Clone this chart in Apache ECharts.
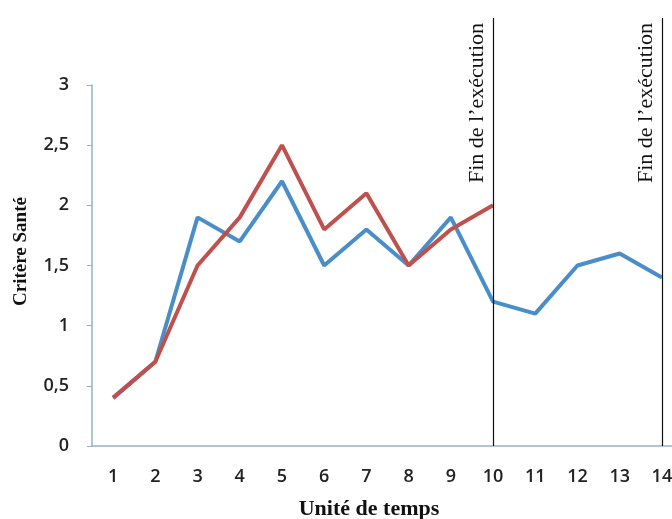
<!DOCTYPE html>
<html lang="fr">
<head>
    <meta charset="UTF-8">
    <title>Critère Santé</title>
    <script src="https://cdn.jsdelivr.net/npm/echarts@6/dist/echarts.min.js"></script>
    <style>
        body { margin: 0; padding: 0; background: #fff; }
        #chart { width: 672px; height: 519px; }
    </style>
</head>
<body>
    <div id="chart"></div>
    <script>
        // données
        const categories = ['1', '2', '3', '4', '5', '6', '7', '8', '9', '10', '11', '12', '13', '14'];
        const blueValues = [0.4, 0.7, 1.9, 1.7, 2.2, 1.5, 1.8, 1.5, 1.9, 1.2, 1.1, 1.5, 1.6, 1.4];
        const redValues = [0.4, 0.7, 1.5, 1.9, 2.5, 1.8, 2.1, 1.5, 1.8, 2.0];
        const endMarks = ['10', '14'];
        const endLabel = 'Fin de l\u2019exécution';

        const chart = echarts.init(document.getElementById('chart'));
        const axisColor = '#93b3c6';

        chart.setOption({
            animation: false,
            backgroundColor: '#fff',
            grid: [
                { left: 92, top: 85, bottom: 73, width: 591, outerBoundsMode: 'none' },
                { left: 92, top: 18, bottom: 73, width: 591, outerBoundsMode: 'none' }
            ],
            xAxis: [{
                type: 'category',
                gridIndex: 0,
                data: categories,
                name: 'Unité de temps',
                nameLocation: 'middle',
                nameGap: 52,
                nameTextStyle: { fontFamily: 'Liberation Serif', fontWeight: 'bold', fontSize: 22, color: '#111', padding: [0, 37, 0, 0] },
                axisLine: { lineStyle: { color: axisColor, width: 1.5 } },
                axisTick: { show: false },
                axisLabel: { margin: 22, fontFamily: 'Open Sans', fontWeight: 600, fontSize: 18, color: '#222' },
                splitLine: { show: false }
            }, {
                type: 'category',
                gridIndex: 1,
                data: categories,
                show: false
            }],
            yAxis: [{
                type: 'value',
                gridIndex: 0,
                min: 0,
                max: 3,
                interval: 0.5,
                name: 'Critère Santé',
                nameLocation: 'middle',
                nameGap: 61,
                nameTextStyle: { fontFamily: 'Liberation Serif', fontWeight: 'bold', fontSize: 19, color: '#111', padding: [0, 0, 0, 28] },
                axisLine: { show: true, lineStyle: { color: axisColor, width: 1.5 } },
                axisTick: { show: true, length: 5, lineStyle: { color: axisColor } },
                axisLabel: {
                    margin: 23,
                    fontFamily: 'Open Sans', fontWeight: 600, fontSize: 18, color: '#222',
                    formatter: v => String(v).replace('.', ',')
                },
                splitLine: { show: false }
            }, {
                type: 'value',
                gridIndex: 1,
                min: 0,
                max: 1,
                show: false
            }],
            series: [{
                type: 'line',
                xAxisIndex: 0,
                yAxisIndex: 0,
                data: blueValues,
                symbol: 'none',
                lineStyle: { color: '#4a8ec9', width: 4 },
                itemStyle: { color: '#4a8ec9' }
            }, {
                type: 'line',
                xAxisIndex: 0,
                yAxisIndex: 0,
                data: redValues,
                symbol: 'none',
                lineStyle: { color: '#c0504d', width: 4 },
                itemStyle: { color: '#c0504d' }
            }, {
                type: 'line',
                xAxisIndex: 1,
                yAxisIndex: 1,
                data: [],
                markLine: {
                    silent: true,
                    symbol: 'none',
                    lineStyle: { color: '#111', width: 1.2, type: 'solid' },
                    label: {
                        show: true,
                        position: 'insideEndTop',
                        distance: 5,
                        formatter: endLabel,
                        fontFamily: 'Liberation Serif',
                        fontSize: 22,
                        color: '#111'
                    },
                    data: endMarks.map(c => ({ xAxis: categories.indexOf(c) }))
                }
            }]
        });
    </script>
</body>
</html>
